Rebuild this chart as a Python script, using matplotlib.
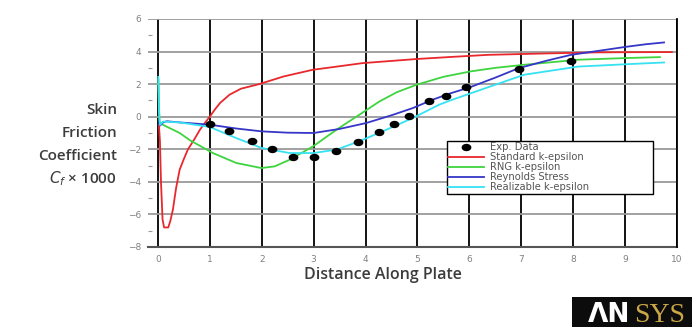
import numpy as np
import matplotlib
matplotlib.use('Agg')
import matplotlib.pyplot as plt
from matplotlib.patches import Rectangle
from matplotlib.path import Path
from matplotlib.transforms import Affine2D

# experimental points
exp_x = [1.0, 1.37, 1.82, 2.19, 2.6, 3.0, 3.44, 3.86, 4.26, 4.55, 4.84, 5.22, 5.55, 5.93, 6.95, 7.95]
exp_y = [-0.43, -0.9, -1.47, -1.96, -2.47, -2.5, -2.13, -1.55, -0.96, -0.45, 0.02, 0.94, 1.3, 1.8, 2.94, 3.4]

# Standard k-epsilon
red_x = [0.02, 0.04, 0.06, 0.09, 0.12, 0.2, 0.24, 0.29, 0.35, 0.42, 0.5, 0.58, 0.7, 0.81, 0.9, 1.0,
         1.1, 1.2, 1.38, 1.6, 1.95, 2.42, 2.98, 3.5, 3.94, 4.97, 5.7, 6.37, 7.4, 8.44, 9.0, 9.9]
red_y = [-0.5, -1.5, -4.0, -6.3, -6.8, -6.8, -6.4, -5.7, -4.4, -3.25, -2.6, -2.0, -1.4, -0.8, -0.4, 0.0,
         0.45, 0.85, 1.35, 1.72, 2.0, 2.47, 2.88, 3.1, 3.29, 3.54, 3.68, 3.8, 3.88, 3.95, 3.96, 3.97]

# RNG k-epsilon
green_x = [0.01, 0.015, 0.03, 0.1, 0.42, 0.62, 1.06, 1.51, 1.99, 2.25, 2.54, 2.99, 3.44, 3.88, 4.27,
           4.6, 4.98, 5.5, 6.02, 6.5, 7.06, 8.1, 9.0, 9.67]
green_y = [2.3, 1.6, -0.3, -0.5, -1.0, -1.45, -2.23, -2.84, -3.15, -3.05, -2.64, -1.82, -0.8, 0.12, 0.94,
           1.5, 1.96, 2.45, 2.78, 3.0, 3.19, 3.5, 3.6, 3.66]

# Reynolds Stress
blue_x = [0.02, 0.04, 0.1, 0.17, 0.42, 1.0, 1.5, 2.0, 2.5, 3.0, 3.5, 4.01, 4.37, 4.53, 4.91, 5.29,
          5.6, 6.02, 6.5, 6.95, 7.5, 7.96, 8.5, 8.99, 9.4, 9.75]
blue_y = [-0.3, -0.55, -0.35, -0.28, -0.35, -0.49, -0.72, -0.9, -0.98, -1.0, -0.75, -0.39, -0.04, 0.12,
          0.53, 1.04, 1.4, 1.82, 2.4, 2.98, 3.45, 3.8, 4.05, 4.28, 4.45, 4.56]

# Realizable k-epsilon
cyan_x = [0.01, 0.02, 0.04, 0.1, 0.42, 1.0, 1.51, 2.0, 2.54, 3.0, 3.44, 3.88, 4.4, 4.91, 5.42, 5.67,
          6.37, 7.06, 8.1, 8.56, 9.0, 9.75]
cyan_y = [2.45, 0.5, -0.5, -0.3, -0.35, -0.63, -1.31, -1.92, -2.23, -2.23, -2.02, -1.51, -0.8, -0.08,
          0.74, 1.04, 1.82, 2.58, 3.08, 3.15, 3.22, 3.33]

x_ticks = list(range(0, 11))
y_ticks = [-8, -6, -4, -2, 0, 2, 4, 6]

# flattened dot like the original symbols
ellipse = Path.unit_circle().transformed(Affine2D().scale(1.4, 1.0))

fig = plt.figure(figsize=(6.92, 3.27), dpi=100)
ax = fig.add_axes([148 / 692, 1 - 247 / 327, 529 / 692, 228 / 327])

ax.plot(red_x, red_y, color='#e8282c', lw=1.3, label='Standard k-epsilon', zorder=3)
ax.plot(green_x, green_y, color='#3fd43f', lw=1.3, label='RNG k-epsilon', zorder=3)
ax.plot(blue_x, blue_y, color='#3636c8', lw=1.3, label='Reynolds Stress', zorder=3)
ax.plot(cyan_x, cyan_y, color='#36e2f2', lw=1.3, label='Realizable k-epsilon', zorder=3)
ax.plot(exp_x, exp_y, marker=ellipse, color='black', ms=6, ls='none', label='Exp. Data', zorder=4)

ax.set_xlim(-0.19, 10)
ax.set_ylim(-8, 6)
ax.set_xticks(x_ticks)
ax.set_yticks(y_ticks)
ax.set_yticks([-7, -5, -3, -1, 1, 3, 5], minor=True)
ax.tick_params(axis='x', length=0, pad=6, labelsize=6.5, labelcolor='#808080')
ax.tick_params(axis='y', which='major', length=0, pad=5, labelsize=6.5, labelcolor='#808080')
ax.tick_params(axis='y', which='minor', direction='in', length=3, color='#999999', width=0.8)
for s in ax.spines.values():
    s.set_visible(False)
ax.xaxis.grid(True, color='black', lw=1.3, zorder=1)
ax.yaxis.grid(True, color='#9a9a9a', lw=1.3, zorder=1)
ax.axhline(-8, color='#555555', lw=1.5, clip_on=False, zorder=1)
ax.axvline(10, color='black', lw=1.3, clip_on=False, zorder=1)
ax.set_axisbelow(True)

# legend in the reference order
h, l = ax.get_legend_handles_labels()
order = [4, 0, 1, 2, 3]
leg = ax.legend([h[i] for i in order], [l[i] for i in order],
                loc='upper left', bbox_to_anchor=(0.565, 0.465, 0.39, 0.0), mode='expand',
                fontsize=7.2, labelspacing=0.0, handlelength=3.6, handletextpad=0.6,
                borderpad=0.15, borderaxespad=0, fancybox=False, edgecolor='black', framealpha=1)
leg.get_frame().set_linewidth(1.0)
for t in leg.get_texts():
    t.set_color('#555555')

# axis labels
lab_font = dict(family='Open Sans', weight='semibold', color='#3c3c3c', fontsize=11)
ylines = ['Skin', 'Friction', 'Coefficient', r'$\mathit{C_f}$ × 1000']
ypos = [110, 133, 156, 179]
for txt, py in zip(ylines, ypos):
    fig.text(117 / 692, 1 - py / 327, txt, ha='right', va='center', **lab_font)
fig.text(383 / 692, 1 - 275 / 327, 'Distance Along Plate', ha='center', va='center',
         family='Open Sans', weight='semibold', color='#3c3c3c', fontsize=11.5)

# logo
fig.patches.append(Rectangle((572 / 692, 0), 120 / 692, 30 / 327, transform=fig.transFigure,
                             facecolor='#0c0c0c', edgecolor='none'))
fig.text(588 / 692, 5 / 327, 'ΛN', color='white', fontsize=19, weight='bold',
         family='DejaVu Sans', ha='left', va='baseline')
fig.text(634 / 692, 5 / 327, 'SYS', color='#c9a646', fontsize=20,
         family='Liberation Serif', ha='left', va='baseline')

fig.savefig('out.png', dpi=100)
